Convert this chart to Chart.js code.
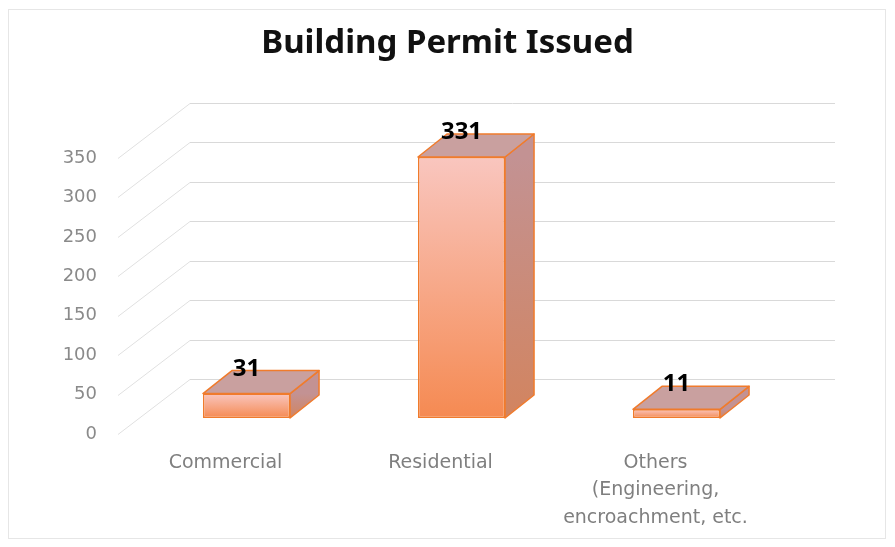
<!DOCTYPE html>
<html>
<head>
<meta charset="utf-8">
<script src="https://cdn.jsdelivr.net/npm/chart.js@4.4.1/dist/chart.umd.min.js"></script>
<style>
  body { margin: 0; background: #fff; }
  #wrap { width: 895px; height: 547px; position: relative; }
</style>
</head>
<body>
<div id="wrap"><canvas id="permit-chart"></canvas></div>
<script>
const categories = ['Commercial', 'Residential', ['Others', '(Engineering,', 'encroachment, etc.']];
const permits = [31, 331, 11];
const yTicks = [0, 50, 100, 150, 200, 250, 300, 350];

// depth of the floor / back wall, and where the boxes sit inside it
const WALL = { dx: 72, dy: -55 };
const FRONT = { dx: 21, dy: -16 };
const BOX = { dx: 29, dy: -23 };

const threeD = {
    id: 'threeD',
    beforeDraw(chart) {
        const { ctx, chartArea, scales } = chart;
        ctx.save();
        // faint picture frame
        ctx.strokeStyle = '#e6e6e6';
        ctx.lineWidth = 1;
        ctx.strokeRect(8.5, 9.5, 877, 529);
        // back wall gridlines and floor/side diagonals
        yTicks.forEach(v => {
            const y = Math.round(scales.y.getPixelForValue(v)) + 0.5;
            ctx.strokeStyle = '#d9d9d9';
            ctx.beginPath();
            ctx.moveTo(chartArea.left + WALL.dx, y + WALL.dy);
            ctx.lineTo(chartArea.right + WALL.dx, y + WALL.dy);
            ctx.stroke();
            ctx.strokeStyle = '#e0e0e0';
            ctx.beginPath();
            ctx.moveTo(chartArea.left, y);
            ctx.lineTo(chartArea.left + WALL.dx, y + WALL.dy);
            ctx.stroke();
        });
        ctx.restore();
    },
    beforeDatasetsDraw(chart) {
        const { ctx } = chart;
        ctx.save();
        ctx.translate(FRONT.dx, FRONT.dy);
        chart.getDatasetMeta(0).data.forEach(bar => {
            const x0 = bar.x - bar.width / 2, x1 = bar.x + bar.width / 2;
            const top = bar.y, base = bar.base;
            ctx.lineWidth = 1.5;
            ctx.strokeStyle = '#f07b2c';
            ctx.lineJoin = 'round';
            // side face
            const g = ctx.createLinearGradient(0, top, 0, base);
            g.addColorStop(0, '#c39293');
            g.addColorStop(1, '#d2845f');
            ctx.fillStyle = g;
            ctx.beginPath();
            ctx.moveTo(x1, top);
            ctx.lineTo(x1 + BOX.dx, top + BOX.dy);
            ctx.lineTo(x1 + BOX.dx, base + BOX.dy);
            ctx.lineTo(x1, base);
            ctx.closePath();
            ctx.fill();
            ctx.stroke();
            // top face
            ctx.fillStyle = '#c9a09f';
            ctx.beginPath();
            ctx.moveTo(x0, top);
            ctx.lineTo(x0 + BOX.dx, top + BOX.dy);
            ctx.lineTo(x1 + BOX.dx, top + BOX.dy);
            ctx.lineTo(x1, top);
            ctx.closePath();
            ctx.fill();
            ctx.stroke();
        });
    },
    afterDatasetsDraw(chart) {
        const { ctx } = chart;
        ctx.fillStyle = '#000';
        ctx.font = 'bold 24px "Noto Sans"';
        ctx.textAlign = 'center';
        ctx.textBaseline = 'alphabetic';
        chart.getDatasetMeta(0).data.forEach((bar, i) => {
            ctx.fillText(permits[i], bar.x, bar.y - 18);
        });
        ctx.restore();
    }
};

const ctx = document.getElementById('permit-chart').getContext('2d');
new Chart(ctx, {
    type: 'bar',
    data: {
        labels: categories,
        datasets: [{
            data: permits,
            backgroundColor: c => {
                const chart = c.chart;
                if (!chart.chartArea) return '#f5a078';
                const top = chart.scales.y.getPixelForValue(permits[c.dataIndex]);
                const base = chart.scales.y.getPixelForValue(0);
                const g = chart.ctx.createLinearGradient(0, top, 0, base);
                g.addColorStop(0, '#f9c6bf');
                g.addColorStop(1, '#f58a52');
                return g;
            },
            borderColor: '#f07b2c',
            borderWidth: 1.5,
            borderSkipped: false,
            categoryPercentage: 1,
            barPercentage: 0.405
        }]
    },
    options: {
        responsive: true,
        maintainAspectRatio: false,
        animation: false,
        layout: { padding: 0 },
        plugins: {
            legend: { display: false },
            tooltip: { enabled: false },
            title: {
                display: true,
                text: 'Building Permit Issued',
                color: '#111',
                font: { family: '"Noto Sans"', size: 33, weight: 'bold', lineHeight: 1.2 },
                padding: { top: 24, bottom: 94.4 }
            }
        },
        scales: {
            y: {
                min: 0,
                max: 350,
                afterBuildTicks: scale => { scale.ticks = yTicks.map(v => ({ value: v })); },
                afterFit: scale => { scale.width = 118; },
                grid: { display: false, drawTicks: false },
                border: { display: false },
                ticks: {
                    padding: 21,
                    color: '#8a8a8a',
                    font: { family: '"DejaVu Sans"', size: 18 }
                }
            },
            // empty right-hand box: room for the receding back wall
            depth: {
                position: 'right',
                min: 0,
                max: 350,
                afterFit: scale => { scale.width = 132; },
                grid: { display: false, drawTicks: false },
                border: { display: false },
                ticks: { display: false }
            },
            x: {
                afterFit: scale => { scale.height = 113; },
                grid: { display: false, drawTicks: false },
                border: { display: false },
                ticks: {
                    padding: 15,
                    color: '#7f7f7f',
                    maxRotation: 0,
                    font: { family: '"DejaVu Sans"', size: 19, lineHeight: 1.45 }
                }
            }
        }
    },
    plugins: [threeD]
});
</script>
</body>
</html>
